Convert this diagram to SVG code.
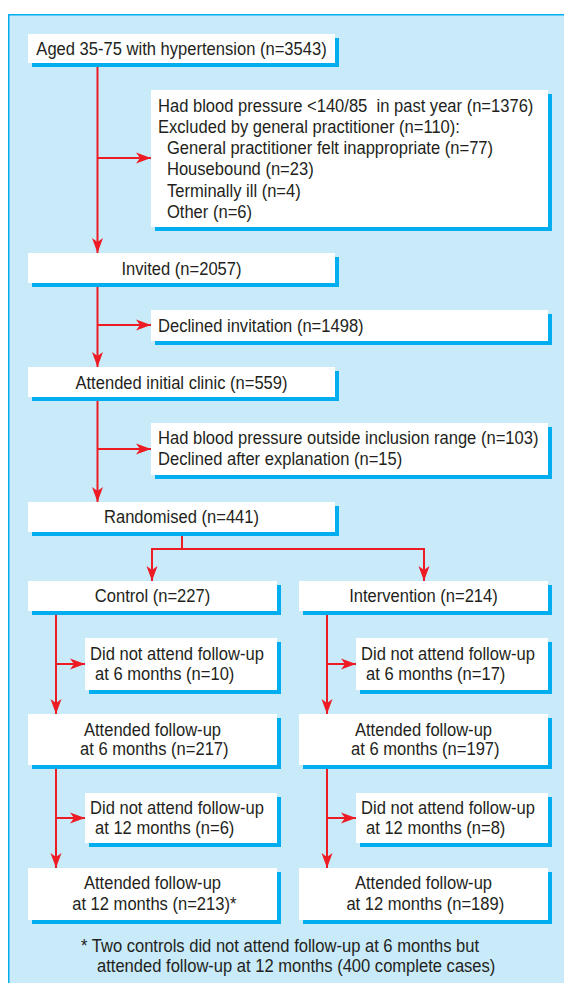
<svg xmlns="http://www.w3.org/2000/svg" width="564" height="983" viewBox="0 0 564 983">
<style>
.frame{fill:#c8eaf9;stroke:#00aeef;stroke-width:1.5}
.sh{fill:#00aeef}
.bx{fill:#ffffff}
text{font-family:"Liberation Sans",Arial,Helvetica,sans-serif;font-size:18.5px;fill:#231f20;white-space:pre}
.c{text-anchor:middle}
.ln{fill:none;stroke:#ed1c24;stroke-width:2}
.ar{marker-end:url(#ah)}
</style>
<defs>
<marker id="ah" markerUnits="userSpaceOnUse" markerWidth="16" markerHeight="12" viewBox="0 0 16 12" refX="15" refY="6" orient="auto">
<path d="M0,0.5 L15,6 L0,11.5 L4,6 Z" fill="#ed1c24"/>
</marker>
</defs>
<rect class="frame" x="8.75" y="14.75" width="600" height="1000"/>

<g id="connectors">
<path class="ln ar" d="M97.5,63 V253"/>
<path class="ln ar" d="M97.5,158 H151"/>
<path class="ln ar" d="M97.5,283 V367"/>
<path class="ln ar" d="M97.5,325 H151"/>
<path class="ln ar" d="M97.5,397 V502"/>
<path class="ln ar" d="M97.5,449 H151"/>
<path class="ln" d="M182,532 V549 M152,549 H424"/>
<path class="ln ar" d="M152,548 V581"/>
<path class="ln ar" d="M424,548 V581"/>
<path class="ln ar" d="M56,611 V714"/>
<path class="ln ar" d="M56,664 H85"/>
<path class="ln ar" d="M327,611 V714"/>
<path class="ln ar" d="M327,664 H356"/>
<path class="ln ar" d="M56,765 V868"/>
<path class="ln ar" d="M56,818 H85"/>
<path class="ln ar" d="M327,765 V868"/>
<path class="ln ar" d="M327,818 H356"/>
</g>

<g id="n-aged">
<rect class="sh" x="32" y="38" width="307" height="29"/>
<rect class="bx" x="28" y="34" width="307" height="29"/>
<text class="c" transform="translate(181.5,55) scale(0.895,1)">Aged 35-75 with hypertension (n=3543)</text>
</g>

<g id="n-excluded">
<rect class="sh" x="155" y="94" width="397" height="137"/>
<rect class="bx" x="151" y="90" width="397" height="137"/>
<text transform="translate(158,111.5) scale(0.895,1)"><tspan x="0" y="0">Had blood pressure &lt;140/85  in past year (n=1376)</tspan><tspan x="0" y="21.5">Excluded by general practitioner (n=110):</tspan><tspan x="10" y="42.5">General practitioner felt inappropriate (n=77)</tspan><tspan x="10" y="64">Housebound (n=23)</tspan><tspan x="10" y="85.5">Terminally ill (n=4)</tspan><tspan x="10" y="106.5">Other (n=6)</tspan></text>
</g>

<g id="n-invited">
<rect class="sh" x="32" y="257" width="307" height="30"/>
<rect class="bx" x="28" y="253" width="307" height="30"/>
<text class="c" transform="translate(181.5,274.5) scale(0.895,1)">Invited (n=2057)</text>
</g>

<g id="n-declined">
<rect class="sh" x="155" y="314" width="397" height="31"/>
<rect class="bx" x="151" y="310" width="397" height="31"/>
<text transform="translate(158,331.5) scale(0.895,1)">Declined invitation (n=1498)</text>
</g>

<g id="n-clinic">
<rect class="sh" x="32" y="371" width="307" height="30"/>
<rect class="bx" x="28" y="367" width="307" height="30"/>
<text class="c" transform="translate(181.5,388.5) scale(0.895,1)">Attended initial clinic (n=559)</text>
</g>

<g id="n-bp">
<rect class="sh" x="155" y="427" width="397" height="52"/>
<rect class="bx" x="151" y="423" width="397" height="52"/>
<text transform="translate(158,444) scale(0.895,1)"><tspan x="0" y="0">Had blood pressure outside inclusion range (n=103)</tspan><tspan x="0" y="21.5">Declined after explanation (n=15)</tspan></text>
</g>

<g id="n-random">
<rect class="sh" x="32" y="506" width="307" height="30"/>
<rect class="bx" x="28" y="502" width="307" height="30"/>
<text class="c" transform="translate(181.5,522.5) scale(0.895,1)">Randomised (n=441)</text>
</g>

<g id="n-control">
<rect class="sh" x="32" y="585" width="249" height="30"/>
<rect class="bx" x="28" y="581" width="249" height="30"/>
<text class="c" transform="translate(152.5,602) scale(0.895,1)">Control (n=227)</text>
</g>

<g id="n-intervention">
<rect class="sh" x="303" y="585" width="249" height="30"/>
<rect class="bx" x="299" y="581" width="249" height="30"/>
<text class="c" transform="translate(423.5,602) scale(0.895,1)">Intervention (n=214)</text>
</g>

<g id="n-c-dna6">
<rect class="sh" x="89" y="642" width="192" height="52"/>
<rect class="bx" x="85" y="638" width="192" height="52"/>
<text transform="translate(90,659.5) scale(0.895,1)"><tspan x="0" y="0">Did not attend follow-up</tspan><tspan x="5.6" y="21">at 6 months (n=10)</tspan></text>
</g>

<g id="n-i-dna6">
<rect class="sh" x="360" y="642" width="192" height="52"/>
<rect class="bx" x="356" y="638" width="192" height="52"/>
<text transform="translate(361,659.5) scale(0.895,1)"><tspan x="0" y="0">Did not attend follow-up</tspan><tspan x="5.6" y="21">at 6 months (n=17)</tspan></text>
</g>

<g id="n-c-att6">
<rect class="sh" x="32" y="718" width="249" height="51"/>
<rect class="bx" x="28" y="714" width="249" height="51"/>
<text class="c" transform="translate(152.5,735.5) scale(0.895,1)"><tspan x="0" y="0">Attended follow-up</tspan><tspan x="2" y="20">at 6 months (n=217)</tspan></text>
</g>

<g id="n-i-att6">
<rect class="sh" x="303" y="718" width="249" height="51"/>
<rect class="bx" x="299" y="714" width="249" height="51"/>
<text class="c" transform="translate(423.5,735.5) scale(0.895,1)"><tspan x="0" y="0">Attended follow-up</tspan><tspan x="2" y="20">at 6 months (n=197)</tspan></text>
</g>

<g id="n-c-dna12">
<rect class="sh" x="89" y="797" width="192" height="50"/>
<rect class="bx" x="85" y="793" width="192" height="50"/>
<text transform="translate(90,813.5) scale(0.895,1)"><tspan x="0" y="0">Did not attend follow-up</tspan><tspan x="5.6" y="20.5">at 12 months (n=6)</tspan></text>
</g>

<g id="n-i-dna12">
<rect class="sh" x="360" y="797" width="192" height="50"/>
<rect class="bx" x="356" y="793" width="192" height="50"/>
<text transform="translate(361,813.5) scale(0.895,1)"><tspan x="0" y="0">Did not attend follow-up</tspan><tspan x="5.6" y="20.5">at 12 months (n=8)</tspan></text>
</g>

<g id="n-c-att12">
<rect class="sh" x="32" y="872" width="249" height="52"/>
<rect class="bx" x="28" y="868" width="249" height="52"/>
<text class="c" transform="translate(152.5,889) scale(0.895,1)"><tspan x="0" y="0">Attended follow-up</tspan><tspan x="2" y="21">at 12 months (n=213)*</tspan></text>
</g>

<g id="n-i-att12">
<rect class="sh" x="303" y="872" width="249" height="52"/>
<rect class="bx" x="299" y="868" width="249" height="52"/>
<text class="c" transform="translate(423.5,889) scale(0.895,1)"><tspan x="0" y="0">Attended follow-up</tspan><tspan x="2" y="21">at 12 months (n=189)</tspan></text>
</g>

<g id="footnote">
<text transform="translate(81,951.5) scale(0.895,1)"><tspan x="0" y="0">* Two controls did not attend follow-up at 6 months but</tspan><tspan x="17.9" y="21">attended follow-up at 12 months (400 complete cases)</tspan></text>
</g>
</svg>
